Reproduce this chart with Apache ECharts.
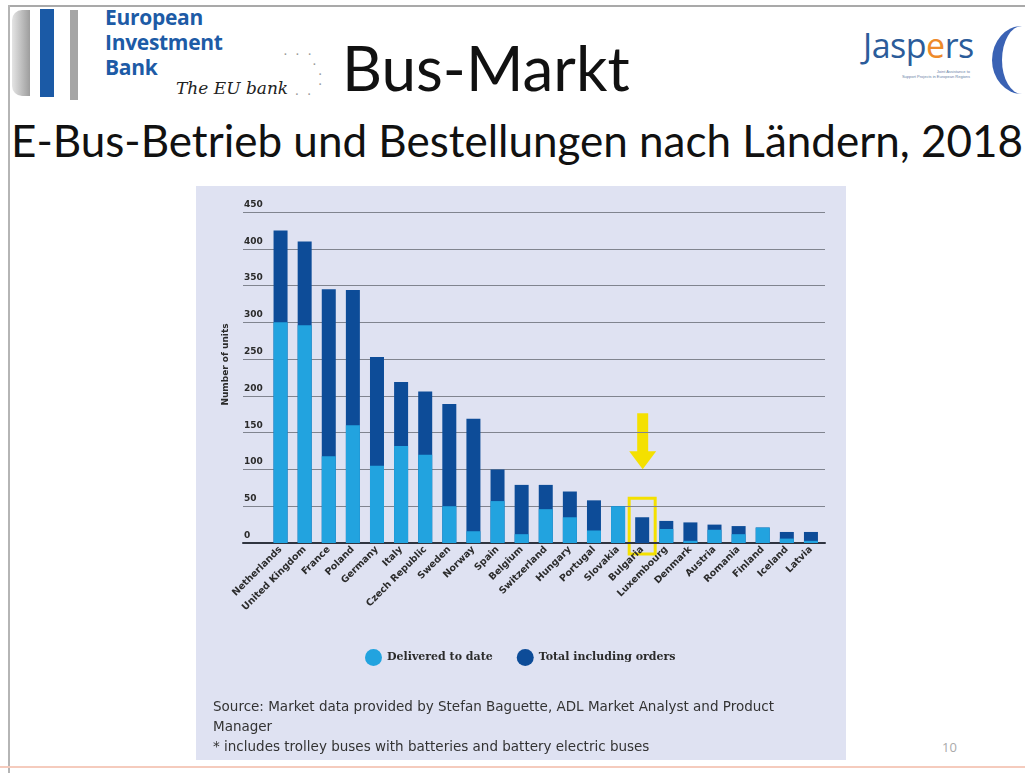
<!DOCTYPE html>
<html>
<head>
<meta charset="utf-8">
<title>Bus-Markt</title>
<script src="https://cdn.jsdelivr.net/npm/echarts@6/dist/echarts.min.js"></script>
<style>
  html, body { margin: 0; padding: 0; background: #fff; }
  #slide { position: relative; width: 1025px; height: 773px; overflow: hidden; font-family: Lato, "Noto Sans", sans-serif; }
  .abs { position: absolute; }
  .eib { color: #1d5ba6; font-weight: 700; font-size: 21px; line-height: 24px; font-family: "Open Sans", sans-serif; letter-spacing: -0.3px; }
  #chart { position: absolute; left: 196px; top: 186px; width: 650px; height: 574px; }
</style>
</head>
<body>
<div id="slide">
  <!-- slide frame -->
  <div class="abs" style="left:8px;top:5px;width:1017px;height:2px;background:#a9a9a9"></div>
  <div class="abs" style="left:8px;top:5px;width:2px;height:768px;background:#b5b5b5"></div>
  <div class="abs" style="left:0;top:766px;width:1025px;height:2px;background:#f5cbbd"></div>

  <!-- EIB logo -->
  <div class="abs" style="left:12px;top:10px;width:18px;height:86px;background:linear-gradient(90deg,#e4e4e4,#9d9d9d);border-radius:10px 0 0 10px"></div>
  <div class="abs" style="left:40px;top:9px;width:14px;height:88px;background:#1b5aa6"></div>
  <div class="abs" style="left:70px;top:10px;width:8px;height:90px;background:#a5a5a5"></div>
  <div class="abs eib" style="left:105px;top:5px">European</div>
  <div class="abs eib" style="left:105px;top:30px">Investment</div>
  <div class="abs eib" style="left:105px;top:55px">Bank</div>
  <div class="abs" style="left:176px;top:78px;font:italic 17px 'DejaVu Serif',serif;color:#222">The EU bank</div>
  <div class="abs" style="left:284px;top:50px;font:bold 10px sans-serif;color:#9a9a9a;line-height:10px;letter-spacing:3px">·&nbsp;·&nbsp;·<br>&nbsp;&nbsp;&nbsp;&nbsp;&nbsp;·<br>&nbsp;&nbsp;&nbsp;&nbsp;&nbsp;&nbsp;·<br>&nbsp;&nbsp;&nbsp;&nbsp;&nbsp;&nbsp;·<br>&nbsp;&nbsp;·&nbsp;·</div>

  <!-- titles -->
  <div class="abs" style="left:342px;top:30px;font-size:62px;line-height:74px;color:#111">Bus-Markt</div>
  <div class="abs" style="left:11px;top:112px;font-size:44px;line-height:56px;color:#111;white-space:nowrap">E-Bus-Betrieb und Bestellungen nach Ländern, 2018</div>

  <!-- Jaspers logo -->
  <div class="abs" style="left:863px;top:22px;font:34px 'Open Sans',sans-serif;color:#2b5c9a;letter-spacing:-0.5px">Jasp<span style="color:#ee8a2a">e</span>rs</div>
  <div class="abs" style="left:880px;top:69px;font:4px sans-serif;color:#6a7fa6;line-height:5px;text-align:right;width:90px">Joint Assistance to<br>Support Projects in European Regions</div>
  <div class="abs" style="left:992px;top:26px;width:60px;height:68px;border-radius:50%;border-right:10px solid #3a62b4;box-sizing:border-box;transform:scaleX(-1)"></div>

  <div id="chart"></div>
  <div class="abs" style="left:942px;top:738px;font:13px 'Open Sans',sans-serif;color:#aaa">10</div>
</div>

<script>
// values (number of units)
const countries = ["Netherlands", "United Kingdom", "France", "Poland", "Germany", "Italy",
  "Czech Republic", "Sweden", "Norway", "Spain", "Belgium", "Switzerland", "Hungary",
  "Portugal", "Slovakia", "Bulgaria", "Luxembourg", "Denmark", "Austria", "Romania",
  "Finland", "Iceland", "Latvia"];
const delivered = [300, 296, 118, 160, 105, 132, 120, 50, 16, 57, 12, 46, 35, 17, 50, 0, 19, 3, 18, 12, 21, 6, 3];
const totalWithOrders = [425, 410, 345, 344, 253, 219, 206, 189, 169, 100, 79, 79, 70, 58, 50, 35, 30, 28, 25, 23, 21, 15, 15];
const yTicks = [0, 50, 100, 150, 200, 250, 300, 350, 400, 450];
const highlighted = "Bulgaria";

const LIGHT = "#22a3df";
const DARK = "#0d4c98";
const TXT = "#2b2b2b";
const labelFont = "'DejaVu Sans', sans-serif";

const chart = echarts.init(document.getElementById("chart"));

const option = {
  backgroundColor: "#dfe2f2",
  animation: false,
  grid: [
    { left: 47, top: 26, width: 582, height: 331 },   // gridlines + y labels
    { left: 72.5, top: 26, width: 554.5, height: 331 } // bars
  ],
  xAxis: [
    {
      gridIndex: 0, type: "value", min: 0, max: 1,
      axisLine: { show: true, lineStyle: { color: "#2f3440", width: 2 } },
      axisTick: { show: false }, axisLabel: { show: false }, splitLine: { show: false }
    },
    {
      gridIndex: 1, type: "category", data: countries,
      axisLine: { show: false }, axisTick: { show: false },
      axisLabel: {
        interval: 0, rotate: 45, margin: 5,
        fontSize: 9.5, fontWeight: "bold", color: TXT, fontFamily: labelFont
      }
    }
  ],
  yAxis: [
    {
      gridIndex: 0, type: "value", min: yTicks[0], max: yTicks[yTicks.length - 1], interval: 50,
      name: "Number of units", nameLocation: "middle", nameRotate: 90, nameGap: 13,
      nameTextStyle: { fontSize: 9, fontWeight: "bold", color: TXT, fontFamily: labelFont, padding: [0, 0, 0, 26] },
      axisLine: { show: false }, axisTick: { show: false },
      axisLabel: {
        inside: true, margin: 1, verticalAlign: "bottom", align: "left",
        padding: [0, 0, 3, 0],
        fontSize: 9, fontWeight: "bold", color: TXT, fontFamily: labelFont
      },
      splitLine: { lineStyle: { color: "#80848f", width: 1.2 } }
    },
    { gridIndex: 1, type: "value", min: 0, max: 450, show: false }
  ],
  legend: {
    data: ["Delivered to date", "Total including orders"],
    left: 164, top: 458,
    icon: "circle", itemWidth: 17, itemHeight: 17, itemGap: 24,
    textStyle: { fontSize: 11, fontWeight: "bold", color: TXT, fontFamily: "'DejaVu Serif', serif" }
  },
  series: [
    {
      name: "Total including orders", type: "bar", xAxisIndex: 1, yAxisIndex: 1,
      data: totalWithOrders, barWidth: 14, barGap: "-100%",
      itemStyle: { color: DARK }
    },
    {
      name: "Delivered to date", type: "bar", xAxisIndex: 1, yAxisIndex: 1,
      data: delivered, barWidth: 14, barGap: "-100%",
      itemStyle: { color: LIGHT }
    }
  ],
  graphic: [
    {
      type: "text", left: 17, top: 511,
      style: {
        text: "Source: Market data provided by Stefan Baguette, ADL Market Analyst and Product\nManager\n* includes trolley buses with batteries and battery electric buses",
        fill: "#333", font: "13.5px 'DejaVu Sans', sans-serif", lineHeight: 20
      }
    }
  ]
};

chart.setOption(option);

// yellow highlight arrow + box, placed from the highlighted bar's own pixels
const hIdx = countries.indexOf(highlighted);
const basePx = chart.convertToPixel({ xAxisIndex: 1, yAxisIndex: 1 }, [hIdx, 0]);
const topPx = chart.convertToPixel({ xAxisIndex: 1, yAxisIndex: 1 }, [hIdx, totalWithOrders[hIdx]]);
const cx = basePx[0];
const YEL = "#f4e000";
chart.setOption({
  graphic: option.graphic.concat([
    { type: "rect", shape: { x: cx - 13, y: topPx[1] - 19, width: 26, height: basePx[1] - topPx[1] + 30 },
      style: { fill: "none", stroke: YEL, lineWidth: 3 } },
    { type: "rect", shape: { x: cx - 5, y: topPx[1] - 104, width: 11, height: 40 }, style: { fill: YEL } },
    { type: "polygon", shape: { points: [[cx - 13, topPx[1] - 66], [cx + 14, topPx[1] - 66], [cx + 0.5, topPx[1] - 48]] },
      style: { fill: YEL } }
  ])
});
</script>
</body>
</html>
